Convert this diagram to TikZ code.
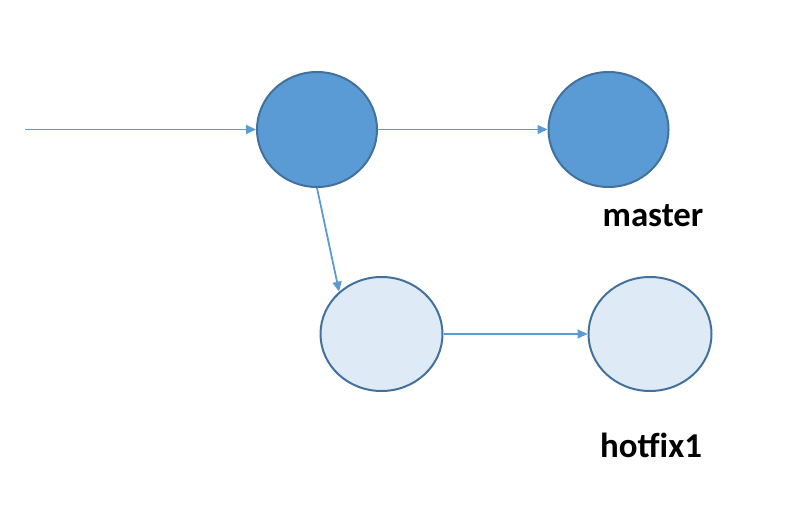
\documentclass[tikz,border=0pt]{standalone}
\usepackage{fontspec}
\setmainfont{Carlito}
\usetikzlibrary{shapes.geometric,arrows.meta}
\definecolor{darkfill}{HTML}{5B9BD5}
\definecolor{lightfill}{HTML}{DEEBF7}
\definecolor{edge}{HTML}{41719C}
\definecolor{arrowc}{HTML}{5B9BD5}
\tikzset{
  commit/.style={ellipse, draw=edge, line width=2bp, inner sep=0pt, minimum width=120bp, minimum height=115bp},
  darkcommit/.style={commit, fill=darkfill},
  lightcommit/.style={commit, fill=lightfill},
  conn/.style={draw=arrowc, line width=1.8bp, -{Triangle[length=10bp,width=9bp]}},
  lbl/.style={font=\fontsize{35}{42}\selectfont\bfseries, inner sep=0pt}
}
\begin{document}
\begin{tikzpicture}[x=1bp,y=-1bp]
\useasboundingbox (0,0) rectangle (798,530);
\node[darkcommit] (e1) at (317,129.5) {};
\node[darkcommit] (e2) at (608.5,129.5) {};
\node[lightcommit, minimum width=122bp, minimum height=114bp] (e3) at (381.5,334) {};
\node[lightcommit, minimum width=123bp, minimum height=114bp] (e4) at (650,334) {};
\coordinate (start) at (25,129.5);
\node[lbl] (m) at (653,216) {master};
\node[lbl] (h) at (651,445) {hotfix1};
\draw[conn] (start) -- (e1.west);
\draw[conn] (e1.east) -- (e2.west);
\draw[conn] (e1.south) -- (e3.135);
\draw[conn] (e3.east) -- (e4.west);
\end{tikzpicture}
\end{document}
